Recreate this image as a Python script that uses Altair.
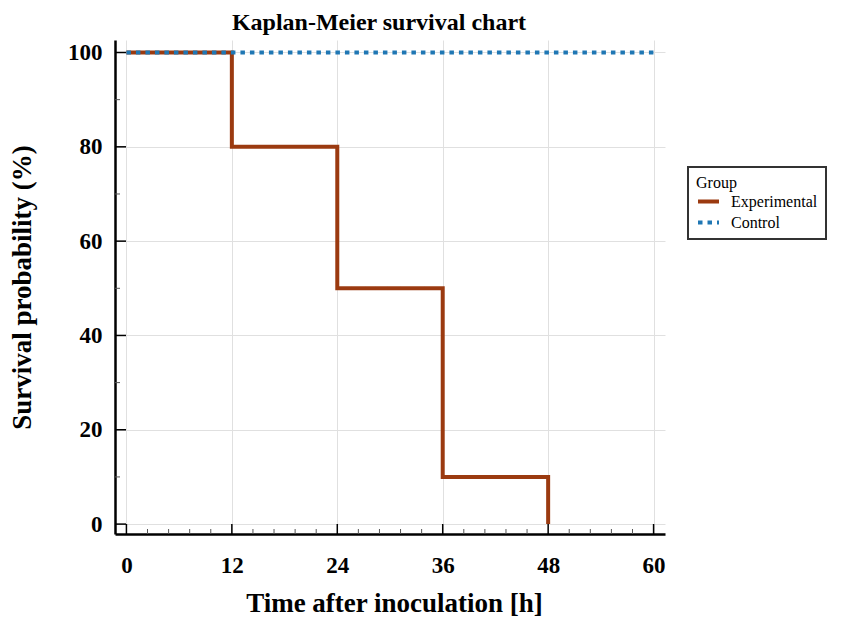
import altair as alt
import pandas as pd

# ---- data ----
groups = ["Experimental", "Control"]
exp_time = [0, 12, 24, 36, 48]
exp_surv = [100, 80, 50, 10, 0]
ctrl_time = [0, 60]
ctrl_surv = [100, 100]

x_ticks = [0, 12, 24, 36, 48, 60]
y_ticks = [0, 20, 40, 60, 80, 100]
x_minor = [2.4, 4.8, 7.2, 9.6, 14.4, 16.8, 19.2, 21.6, 26.4, 28.8, 31.2, 33.6,
           38.4, 40.8, 43.2, 45.6, 50.4, 52.8, 55.2, 57.6]
y_minor = [10, 30, 50, 70, 90]

df_exp = pd.DataFrame({"time": exp_time, "surv": exp_surv, "group": "Experimental"})
df_ctrl = pd.DataFrame({"time": ctrl_time, "surv": ctrl_surv, "group": "Control"})

FONT = "Liberation Serif"
W, H = 550, 494

xscale = alt.Scale(domain=[-1.3, 61.3], nice=False, zero=False)
yscale = alt.Scale(domain=[-2.1, 102.65], nice=False, zero=False)

leg = alt.Legend(orient="none", legendX=573, legendY=127)
color = alt.Color("group:N", title="Group",
                  scale=alt.Scale(domain=groups, range=["#9b3a10", "#1f77b4"]),
                  legend=leg)
dash = alt.StrokeDash("group:N", title="Group",
                      scale=alt.Scale(domain=groups, range=[[1, 0], [4.5, 5]]),
                      legend=leg)

x_axis = alt.Axis(values=x_ticks, title="Time after inoculation [h]",
                  ticks=False, grid=True, labelPadding=38,
                  labelBaseline="alphabetic",
                  titleY=77, titleX=279, titleBaseline="alphabetic")
y_axis = alt.Axis(values=y_ticks, title="Survival probability (%)",
                  ticks=False, grid=True, labelPadding=13,
                  titleX=-85, titleY=247, titleBaseline="alphabetic")

def xe(f):
    return alt.X(f, type="quantitative", scale=xscale, axis=x_axis)

def ye(f):
    return alt.Y(f, type="quantitative", scale=yscale, axis=y_axis)

exp_line = alt.Chart(df_exp).mark_line(strokeWidth=4, interpolate="step-after").encode(
    x=xe("time"), y=ye("surv"), color=color, strokeDash=dash)
ctrl_line = alt.Chart(df_ctrl).mark_line(strokeWidth=4, interpolate="step-after").encode(
    x=xe("time"), y=ye("surv"), color=color, strokeDash=dash)

xmaj = alt.Chart(pd.DataFrame({"v": x_ticks})).mark_rule(color="black", strokeWidth=1.5).encode(
    x=xe("v"), y=alt.value(H), y2=alt.value(H - 10))
xmin = alt.Chart(pd.DataFrame({"v": x_minor})).mark_rule(color="#555555", strokeWidth=1).encode(
    x=xe("v"), y=alt.value(H), y2=alt.value(H - 5))
ymaj = alt.Chart(pd.DataFrame({"v": y_ticks})).mark_rule(color="black", strokeWidth=1.5).encode(
    y=ye("v"), x=alt.value(0), x2=alt.value(11))
ymin = alt.Chart(pd.DataFrame({"v": y_minor})).mark_rule(color="#555555", strokeWidth=1).encode(
    y=ye("v"), x=alt.value(0), x2=alt.value(5))

chart = alt.layer(exp_line, ctrl_line, xmin, xmaj, ymin, ymaj).properties(
    width=W, height=H,
    autosize=alt.AutoSizeParams(type="none"),
    padding={"left": 107, "top": 32, "right": 170, "bottom": 83},
    title=alt.TitleParams("Kaplan-Meier survival chart", font=FONT, fontSize=24,
                          fontWeight="bold", color="black", anchor="middle",
                          frame="group", offset=5, dx=-11),
).configure_view(stroke=None).configure_axis(
    domainColor="black", domainWidth=2.5,
    gridColor="#e0e0e0", gridWidth=1,
    labelFont=FONT, labelFontSize=23, labelFontWeight="bold", labelColor="black",
    titleFont=FONT, titleFontSize=27, titleFontWeight="bold", titleColor="black",
).configure_legend(
    symbolType="stroke", symbolSize=441, symbolStrokeWidth=4,
    strokeColor="#333333", strokeWidth=2, fillColor="white", padding=8,
    titleFont=FONT, titleFontSize=16, titleFontWeight="normal", titleColor="black",
    labelFont=FONT, labelFontSize=16, labelColor="black", labelOffset=10,
    rowPadding=-4, titlePadding=-2,
)

chart.save("out.html", embed_options={"renderer": "svg", "actions": False})
